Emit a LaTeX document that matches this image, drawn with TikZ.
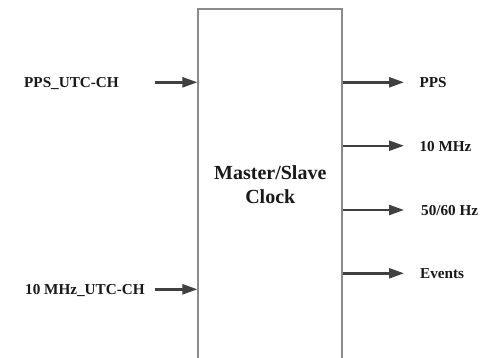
\documentclass[tikz,border=0pt]{standalone}
\usepackage{fontspec}
\setmainfont{Liberation Serif}
\usetikzlibrary{arrows.meta}
\definecolor{arrowgray}{HTML}{404040}
\definecolor{boxgray}{HTML}{8A8A8A}
\tikzset{
  sig/.style={draw=arrowgray, line width=2.4pt,
    -{Triangle[length=15pt,width=10pt]}},
  lbl/.style={inner sep=0pt, anchor=base west, text=black!90,
    font=\fontsize{15.2}{18}\selectfont\bfseries},
  clockbox/.style={draw=boxgray, line width=1.8pt, fill=white,
    minimum width=144pt, minimum height=352pt, inner sep=0pt,
    align=center, text=black!90,
    font=\fontsize{20}{24}\selectfont\bfseries}
}
\begin{document}
\begin{tikzpicture}[x=1pt,y=-1pt]
  \clip (0,0) rectangle (488,357);
  \fill[white] (0,0) rectangle (488,357);

  % main block, open past the bottom edge
  \node[clockbox] (box) at (270.3,185) {Master/Slave\\Clock};

  % inputs
  \node[lbl] (inA) at (24,87.5) {PPS\_UTC-CH};
  \node[lbl] (inB) at (25,294) {10 MHz\_UTC-CH};
  \coordinate (sA) at (155,82.3);
  \coordinate (sB) at (155,289.3);
  \draw[sig] (sA) -- (sA -| box.west);
  \draw[sig] (sB) -- (sB -| box.west);

  % outputs
  \coordinate (oA) at (404,82.3);
  \coordinate (oB) at (404,145.7);
  \coordinate (oC) at (404,210);
  \coordinate (oD) at (404,273.3);
  \draw[sig] (oA -| box.east) -- (oA);
  \draw[sig] (oB -| box.east) -- (oB);
  \draw[sig] (oC -| box.east) -- (oC);
  \draw[sig] (oD -| box.east) -- (oD);
  \node[lbl] (outA) at (419.3,87.5) {PPS};
  \node[lbl] (outB) at (419.3,151) {10 MHz};
  \node[lbl] (outC) at (421,215) {50/60 Hz};
  \node[lbl] (outD) at (420,278) {Events};
\end{tikzpicture}
\end{document}
